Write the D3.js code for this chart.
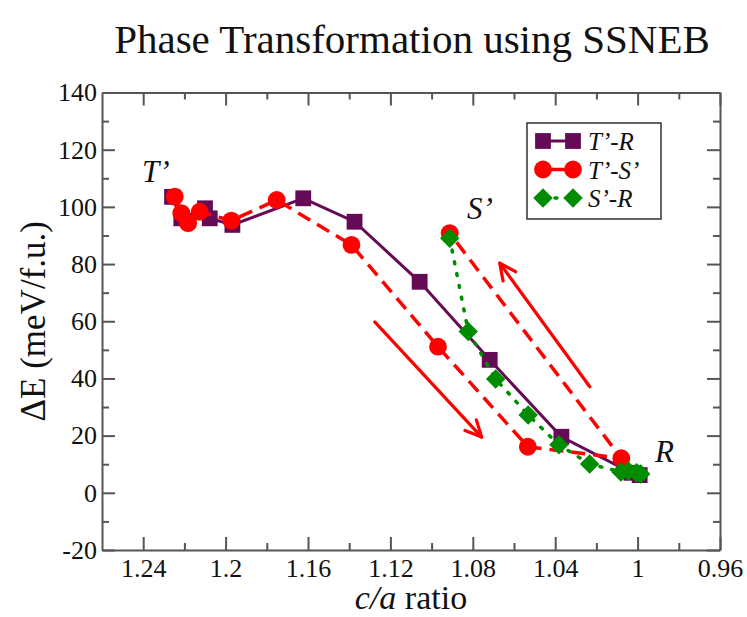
<!DOCTYPE html>
<html><head><meta charset="utf-8">
<script src="https://cdn.jsdelivr.net/npm/d3@7"></script>
<style>body{margin:0;background:#fff}svg{display:block}</style>
</head><body>
<svg id="c" width="747" height="617"></svg>
<script>
// ---- data ----
const titleText = "Phase Transformation using SSNEB";
const xTicks = [1.24, 1.2, 1.16, 1.12, 1.08, 1.04, 1, 0.96];
const xTickLabels = ["1.24", "1.2", "1.16", "1.12", "1.08", "1.04", "1", "0.96"];
const xMinor = [1.22, 1.18, 1.14, 1.10, 1.06, 1.02, 0.98];
const yTicks = [-20, 0, 20, 40, 60, 80, 100, 120, 140];
const yMinor = [-10, 10, 30, 50, 70, 90, 110, 130];

const trX = [1.226, 1.2215, 1.210, 1.2077, 1.1967, 1.1623, 1.1374, 1.1058, 1.0718, 1.037, 1.003, 0.999];
const trY = [103.5, 96, 99.5, 96, 93.7, 103, 94.8, 73.8, 46.5, 19.6, 7, 6.2];
const tsX = [1.2247, 1.2215, 1.2182, 1.2126, 1.1972, 1.1752, 1.1389, 1.0969, 1.0533, 1.0079, 1.0912];
const tsY = [103.6, 97.8, 94.3, 98.3, 95.2, 102.4, 86.7, 51.1, 16.1, 12.1, 90.8];
const srX = [1.0912, 1.0822, 1.0689, 1.0531, 1.0382, 1.0233, 1.0081, 1.0045, 1.0005, 0.9985];
const srY = [89, 56.4, 39.8, 27.2, 16.8, 10.1, 7.3, 7.6, 7.0, 6.6];

const seriesNames = ["T\u2019-R", "T\u2019-S\u2019", "S\u2019-R"];
const arrowFrom = [[1.1276, 59.8], [1.0232, 37.1]];
const arrowTo = [[1.0757, 19.5], [1.0669, 80.3]];
const pointLabels = ["T\u2019", "S\u2019", "R"];
const pointLabelPos = [[1.2406, 108.7], [1.0828, 95.8], [0.9916, 10.8]];

// ---- layout ----
const svg = d3.select("#c");
const L = 102, R = 720, T = 92.5, B = 550;
const x = d3.scaleLinear().domain([1.26, 0.96]).range([L, R]);
const y = d3.scaleLinear().domain([-20, 140]).range([B, T]);
const serif = '"Liberation Serif"';
const axisCol = "#555";
const purple = "#650a55", red = "#ff0000", green = "#008c00";

svg.append("text").attr("x", 412).attr("y", 53).attr("text-anchor", "middle")
  .style("font-family", serif).style("font-size", "41px").attr("fill", "#111").text(titleText);

function styleAxis(g) {
  g.attr("font-family", null).attr("font-size", null);
  g.selectAll("path.domain").attr("stroke", axisCol).attr("stroke-width", 2);
  g.selectAll(".tick line").attr("stroke", axisCol).attr("stroke-width", 2);
  g.selectAll("text").style("font-family", serif).style("font-size", "26px").attr("fill", "#111");
}
// bottom
svg.append("g").attr("transform", `translate(0,${B})`)
  .call(d3.axisBottom(x).tickValues(xTicks).tickSizeInner(-13).tickSizeOuter(0).tickPadding(8.5)
    .tickFormat((d, i) => xTickLabels[i]))
  .call(styleAxis);
svg.append("g").attr("transform", `translate(0,${B})`)
  .call(d3.axisBottom(x).tickValues(xMinor).tickSizeInner(-7).tickSizeOuter(0).tickFormat(""))
  .call(styleAxis).select("path.domain").remove();
// top
svg.append("g").attr("transform", `translate(0,${T})`)
  .call(d3.axisTop(x).tickValues(xTicks).tickSizeInner(-13).tickSizeOuter(0).tickFormat(""))
  .call(styleAxis);
svg.append("g").attr("transform", `translate(0,${T})`)
  .call(d3.axisTop(x).tickValues(xMinor).tickSizeInner(-7).tickSizeOuter(0).tickFormat(""))
  .call(styleAxis).select("path.domain").remove();
// left
svg.append("g").attr("transform", `translate(${L},0)`)
  .call(d3.axisLeft(y).tickValues(yTicks).tickSizeInner(-13).tickSizeOuter(0).tickPadding(5)
    .tickFormat(d => String(d)))
  .call(styleAxis);
svg.append("g").attr("transform", `translate(${L},0)`)
  .call(d3.axisLeft(y).tickValues(yMinor).tickSizeInner(-7).tickSizeOuter(0).tickFormat(""))
  .call(styleAxis).select("path.domain").remove();
// right
svg.append("g").attr("transform", `translate(${R},0)`)
  .call(d3.axisRight(y).tickValues(yTicks).tickSizeInner(-13).tickSizeOuter(0).tickFormat(""))
  .call(styleAxis);
svg.append("g").attr("transform", `translate(${R},0)`)
  .call(d3.axisRight(y).tickValues(yMinor).tickSizeInner(-7).tickSizeOuter(0).tickFormat(""))
  .call(styleAxis).select("path.domain").remove();

// axis titles
svg.append("text").attr("transform", `translate(45,${(T + B) / 2}) rotate(-90)`)
  .attr("text-anchor", "middle").style("font-family", serif).style("font-size", "35px").attr("fill", "#111")
  .text("\u0394E (meV/f.u.)");
const xl = svg.append("text").attr("x", (L + R) / 2).attr("y", 609).attr("text-anchor", "middle")
  .style("font-family", serif).style("font-size", "34px").attr("fill", "#111");
xl.append("tspan").style("font-style", "italic").text("c/a");
xl.append("tspan").text(" ratio");

// series
const line = d3.line().x(d => x(d[0])).y(d => y(d[1]));
const sym = {
  square: d3.symbol().type(d3.symbolSquare).size(250),
  circle: d3.symbol().type(d3.symbolCircle).size(250),
  diamond: d3.symbol().type(d3.symbolSquare).size(190)
};
function drawSymbol(g, type, px, py, col) {
  return g.append("path").attr("d", sym[type]()).attr("fill", col)
    .attr("transform", `translate(${px},${py})` + (type === "diamond" ? " rotate(45)" : ""));
}
const series = [
  {xs: trX, ys: trY, col: purple, dash: null, w: 3, type: "square"},
  {xs: tsX, ys: tsY, col: red, dash: "14,8", w: 3.5, type: "circle"},
  {xs: srX, ys: srY, col: green, dash: "2,10", w: 3.5, type: "diamond"}
];
series.forEach(s => {
  const pts = s.xs.map((v, i) => [v, s.ys[i]]);
  const g = svg.append("g");
  g.append("path").attr("d", line(pts)).attr("fill", "none").attr("stroke", s.col)
    .attr("stroke-width", s.w).attr("stroke-dasharray", s.dash)
    .attr("stroke-linecap", s.type === "diamond" ? "round" : "butt");
  pts.forEach(p => drawSymbol(g, s.type, x(p[0]), y(p[1]), s.col));
});

// arrows
arrowFrom.forEach((a, i) => {
  const b = arrowTo[i];
  const x1 = x(a[0]), y1 = y(a[1]), x2 = x(b[0]), y2 = y(b[1]);
  const ang = Math.atan2(y2 - y1, x2 - x1);
  const hl = 18, ha = Math.PI / 7;
  const g = svg.append("g").attr("stroke", red).attr("stroke-width", 3.2).attr("fill", "none")
    .attr("stroke-linecap", "round").attr("stroke-linejoin", "round");
  g.append("line").attr("x1", x1).attr("y1", y1).attr("x2", x2).attr("y2", y2);
  g.append("path").attr("d",
    `M${x2 - hl * Math.cos(ang - ha)},${y2 - hl * Math.sin(ang - ha)}L${x2},${y2}L${x2 - hl * Math.cos(ang + ha)},${y2 - hl * Math.sin(ang + ha)}`);
});

// point labels
pointLabels.forEach((t, i) => {
  svg.append("text").attr("x", x(pointLabelPos[i][0])).attr("y", y(pointLabelPos[i][1]))
    .style("font-family", serif).style("font-style", "italic").style("font-size", "31px").attr("fill", "#111").text(t);
});

// legend
const lg = svg.append("g");
lg.append("rect").attr("x", 527).attr("y", 123).attr("width", 134).attr("height", 96)
  .attr("fill", "#fff").attr("stroke", "#333").attr("stroke-width", 1.5);
const rowsY = [141, 169.5, 198];
series.forEach((s, i) => {
  const yy = rowsY[i];
  lg.append("line").attr("x1", 543).attr("x2", 573).attr("y1", yy).attr("y2", yy)
    .attr("stroke", s.col).attr("stroke-width", s.w).attr("stroke-dasharray", s.type === "diamond" ? s.dash : null)
    .attr("stroke-linecap", s.type === "diamond" ? "round" : "butt");
  drawSymbol(lg, s.type, 543, yy, s.col);
  drawSymbol(lg, s.type, 573, yy, s.col);
  lg.append("text").attr("x", 588).attr("y", yy + 9).style("font-family", serif)
    .style("font-style", "italic").style("font-size", "25px").attr("fill", "#111").text(seriesNames[i]);
});
</script>
</body></html>
